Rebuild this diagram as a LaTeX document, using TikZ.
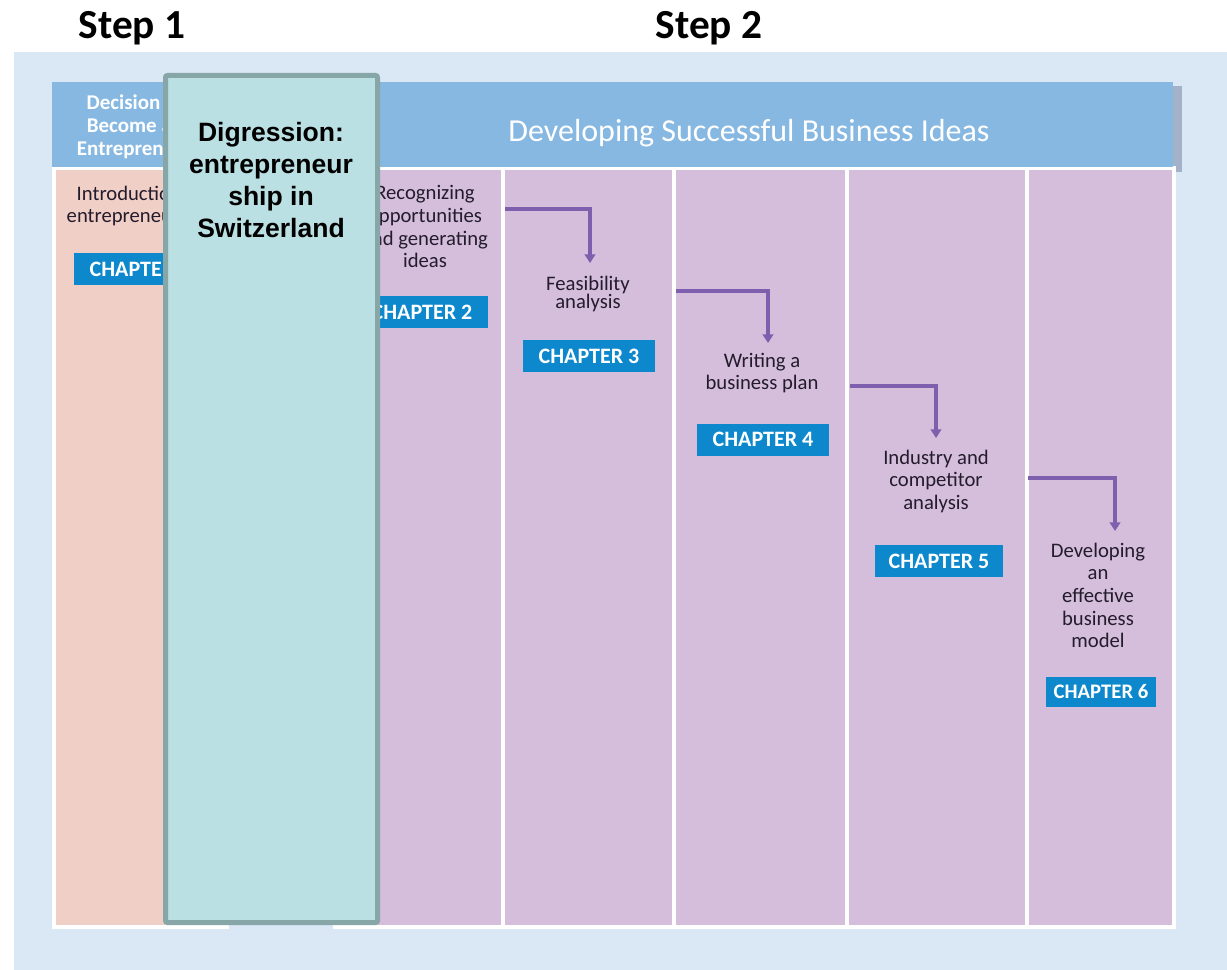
\documentclass[tikz,border=0pt]{standalone}
\usepackage{fontspec}
\setmainfont{Carlito}
\newfontfamily\arialfont{Liberation Sans}
\usetikzlibrary{arrows.meta,calc}
\definecolor{bgblue}{HTML}{DAE7F4}
\definecolor{hdrblue}{HTML}{86B8E2}
\definecolor{peach}{HTML}{F0D0C6}
\definecolor{lilac}{HTML}{D4BEDB}
\definecolor{digfill}{HTML}{BAE0E3}
\definecolor{digline}{HTML}{86A6A8}
\definecolor{chapblue}{HTML}{0E88CC}
\definecolor{arrowpurple}{HTML}{7D5FAE}
\definecolor{txtdark}{HTML}{241B2C}
\definecolor{shadowgrey}{HTML}{A3B2C8}
\begin{document}
\begin{tikzpicture}[x=0.75pt,y=-0.75pt,
  coltext/.style={anchor=north, inner sep=0pt, align=center, text=txtdark,
    font=\fontsize{15.5}{17}\selectfont},
  chapbox/.style={fill=chapblue, text=white, font=\bfseries\fontsize{16.5}{18}\selectfont,
    minimum width=99pt, minimum height=24pt, inner sep=0pt},
  arr/.style={draw=arrowpurple, line width=2.9pt, -{Triangle[length=6.5pt,width=8pt]}},
  steplabel/.style={font=\bfseries\fontsize{31}{36}\selectfont, text=black, inner sep=0pt},
  hdrtext/.style={text=white, inner sep=0pt, align=center},
]
\useasboundingbox (0,0) rectangle (1227,970);
% background
\fill[white] (0,0) rectangle (1227,970);
\fill[bgblue] (14,52) rectangle (1227,970);
% header shadow
\fill[shadowgrey] (1172,86) rectangle (1182,172);
% white frame for columns
\fill[white] (52,166) rectangle (1176,929);
\fill[bgblue] (229,925) rectangle (333,931);
% header bar
\fill[hdrblue] (52,82) rectangle (1173,167);
% columns
\fill[peach] (56,170) rectangle (229,925);
\fill[lilac] (231,170) rectangle (501,925);
\fill[lilac] (505,170) rectangle (672,925);
\fill[lilac] (676,170) rectangle (845,925);
\fill[lilac] (849,170) rectangle (1025,925);
\fill[lilac] (1029,170) rectangle (1172,925);

% step labels
\node[steplabel] (step1) at (132,28) {Step 1};
\node[steplabel] (step2) at (709,28) {Step 2};

% header texts
\node[hdrtext, anchor=north, font=\bfseries\fontsize{15.75}{17.25}\selectfont] (hdr1) at (135,94.5)
  {Decision to\\Become an\\Entrepreneur};
\node[hdrtext, font=\fontsize{24}{28}\selectfont] (hdr2) at (749,133) {Developing Successful Business Ideas};

% column texts
\node[coltext] (t1) at (140,185.5) {Introduction to\\entrepreneurship};
\node[coltext] (t2) at (425,185.5) {Recognizing\\opportunities\\and generating\\ideas};
\node[coltext, font=\fontsize{15.5}{14}\selectfont] (t3) at (588,275.5) {Feasibility\\analysis};
\node[coltext] (t4) at (762,352.5) {Writing a\\business plan};
\node[coltext] (t5) at (936,449.5) {Industry and\\competitor\\analysis};
\node[coltext] (t6) at (1098,542.5) {Developing\\an\\effective\\business\\model};

% chapter badges
\node[chapbox] (ch1) at (140,269) {CHAPTER 1};
\node[chapbox] (ch2) at (422,312) {CHAPTER 2};
\node[chapbox] (ch3) at (589,356) {CHAPTER 3};
\node[chapbox] (ch4) at (763,439.5) {CHAPTER 4};
\node[chapbox, minimum width=96pt] (ch5) at (939,561) {CHAPTER 5};
\node[chapbox, minimum width=82.5pt, minimum height=22.5pt, font=\bfseries\fontsize{15.5}{17}\selectfont] (ch6) at (1101,692) {CHAPTER 6};

% arrows
\coordinate (s3) at (505,209);  \coordinate (e3) at (590,263);
\coordinate (s4) at (676,291);  \coordinate (e4) at (768,343);
\coordinate (s5) at (850,386);  \coordinate (e5) at (936,438);
\coordinate (s6) at (1028,478); \coordinate (e6) at (1115,531);
\draw[arr] (s3) -| (e3);
\draw[arr] (s4) -| (e4);
\draw[arr] (s5) -| (e5);
\draw[arr] (s6) -| (e6);

% digression overlay
\node[draw=digline, fill=digfill, line width=3.75pt, rounded corners=1.5pt,
  minimum width=159pt, minimum height=635.25pt, inner sep=0pt] (dig) at (271.5,499) {};
\node[anchor=north, align=center, inner sep=0pt, text=black,
  font=\arialfont\bfseries\fontsize{19.9}{23.8}\selectfont] (digt) at (271,122.5)
  {Digression:\\entrepreneur\\ship in\\Switzerland};
\end{tikzpicture}
\end{document}
